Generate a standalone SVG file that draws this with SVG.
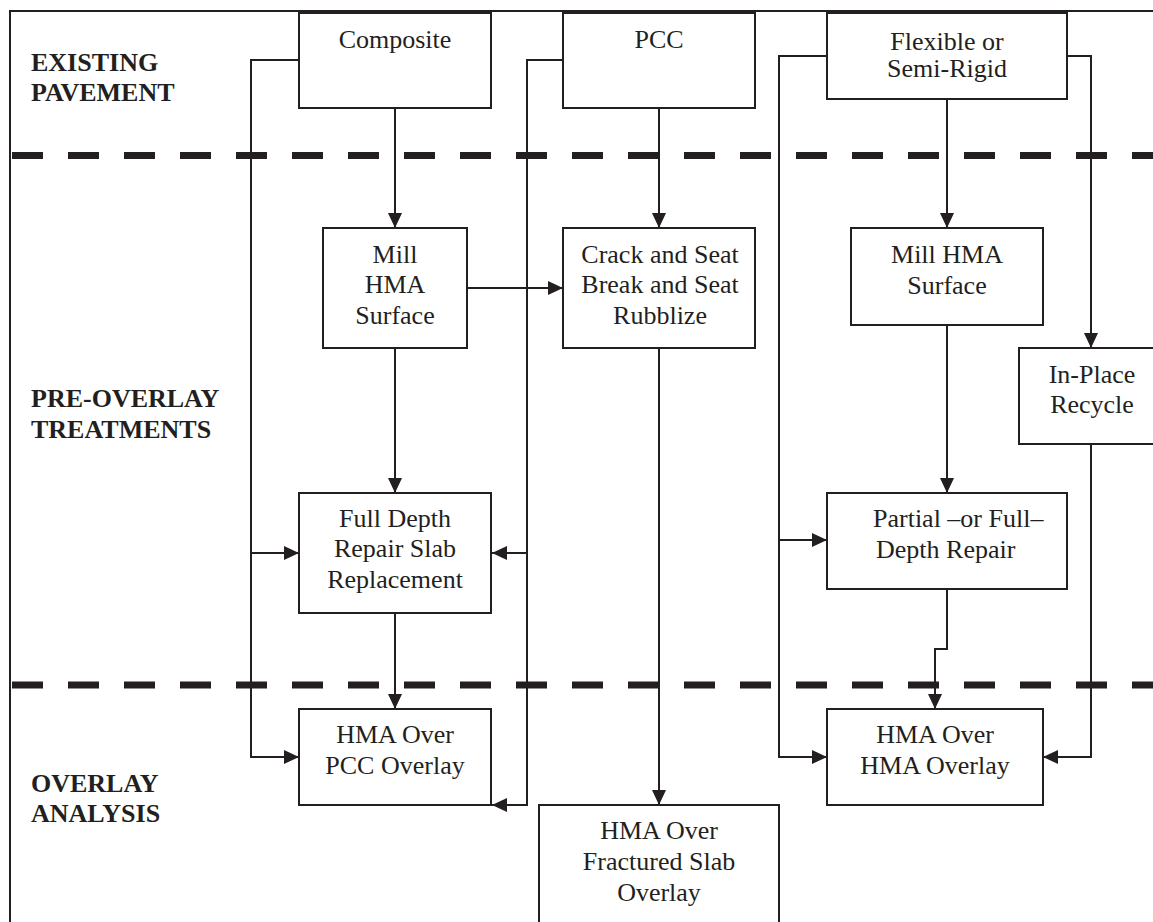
<svg xmlns="http://www.w3.org/2000/svg" width="1153" height="922" viewBox="0 0 1153 922">
<style>
.bx{fill:#fff;stroke:#231f20;stroke-width:2}
.t{font-family:"Liberation Serif","Times New Roman",serif;font-size:26px;fill:#231f20;text-anchor:middle}
.ts{font-family:"Liberation Serif","Times New Roman",serif;font-size:26px;fill:#231f20}
.lb{font-family:"Liberation Serif","Times New Roman",serif;font-size:26px;font-weight:bold;fill:#231f20}
.c{fill:none;stroke:#231f20;stroke-width:2}
.ca{fill:none;stroke:#231f20;stroke-width:2;marker-end:url(#ah)}
.dash{stroke:#231f20;stroke-width:7;stroke-dasharray:31 25}
</style>
<defs>
<marker id="ah" viewBox="0 0 15 14" refX="15" refY="7" markerWidth="15" markerHeight="14" markerUnits="userSpaceOnUse" orient="auto">
<path d="M0,0 L15,7 L0,14 z" fill="#231f20"/>
</marker>
</defs>
<rect width="1153" height="922" fill="#fff"/>
<g id="frame">
<path d="M10,930 V11 H1160" fill="none" stroke="#231f20" stroke-width="2"/>
<line class="dash" x1="12" y1="155.5" x2="1160" y2="155.5"/>
<line class="dash" x1="12" y1="685" x2="1160" y2="685"/>
</g>
<g id="section-labels">
<text class="lb" x="31" y="71">EXISTING</text>
<text class="lb" x="31" y="101">PAVEMENT</text>
<text class="lb" x="31" y="407">PRE-OVERLAY</text>
<text class="lb" x="31" y="438">TREATMENTS</text>
<text class="lb" x="31" y="792">OVERLAY</text>
<text class="lb" x="31" y="822">ANALYSIS</text>
</g>
<g id="connectors">
<path class="ca" d="M395,108 V228"/>
<path class="ca" d="M659,108 V228"/>
<path class="ca" d="M947,99 V228"/>
<path class="ca" d="M299,60 H251 V757 H299"/>
<path class="ca" d="M251,553 H299"/>
<path class="ca" d="M563,60 H527 V805 H492"/>
<path class="ca" d="M527,553 H492"/>
<path class="ca" d="M467,288 H563"/>
<path class="ca" d="M395,348 V493"/>
<path class="ca" d="M395,613 V709"/>
<path class="ca" d="M659,348 V805"/>
<path class="ca" d="M827,56 H779 V757 H827"/>
<path class="ca" d="M779,540 H827"/>
<path class="ca" d="M1067,56 H1091 V348"/>
<path class="ca" d="M947,325 V493"/>
<path class="ca" d="M947,589 V649 H935 V709"/>
<path class="ca" d="M1091,444 V757 H1043"/>
</g>
<g id="composite">
<rect class="bx" x="299" y="13" width="192" height="95"/>
<text class="t" x="395" y="48">Composite</text>
</g>
<g id="pcc">
<rect class="bx" x="563" y="13" width="192" height="95"/>
<text class="t" x="659" y="48">PCC</text>
</g>
<g id="flexible">
<rect class="bx" x="827" y="13" width="240" height="86"/>
<text class="t" x="947" y="50">Flexible or</text>
<text class="t" x="947" y="77">Semi-Rigid</text>
</g>
<g id="mill-hma-left">
<rect class="bx" x="323" y="228" width="144" height="120"/>
<text class="t" x="395" y="263">Mill</text>
<text class="t" x="395" y="293">HMA</text>
<text class="t" x="395" y="324">Surface</text>
</g>
<g id="crack-seat">
<rect class="bx" x="563" y="228" width="192" height="120"/>
<text class="t" x="660" y="263">Crack and Seat</text>
<text class="t" x="660" y="293">Break and Seat</text>
<text class="t" x="660" y="324">Rubblize</text>
</g>
<g id="mill-hma-right">
<rect class="bx" x="851" y="228" width="192" height="97"/>
<text class="t" x="947" y="263">Mill HMA</text>
<text class="t" x="947" y="294">Surface</text>
</g>
<g id="in-place-recycle">
<rect class="bx" x="1019" y="348" width="160" height="96"/>
<text class="t" x="1092" y="383">In-Place</text>
<text class="t" x="1092" y="413">Recycle</text>
</g>
<g id="full-depth">
<rect class="bx" x="299" y="493" width="192" height="120"/>
<text class="t" x="395" y="527">Full Depth</text>
<text class="t" x="395" y="557">Repair Slab</text>
<text class="t" x="395" y="588">Replacement</text>
</g>
<g id="partial-full-depth">
<rect class="bx" x="827" y="493" width="240" height="96"/>
<text class="ts" x="873" y="527">Partial –or Full–</text>
<text class="ts" x="876" y="558">Depth Repair</text>
</g>
<g id="hma-over-pcc">
<rect class="bx" x="299" y="709" width="192" height="96"/>
<text class="t" x="395" y="743">HMA Over</text>
<text class="t" x="395" y="774">PCC Overlay</text>
</g>
<g id="hma-over-fractured">
<rect class="bx" x="539" y="805" width="240" height="130"/>
<text class="t" x="659" y="839">HMA Over</text>
<text class="t" x="659" y="870">Fractured Slab</text>
<text class="t" x="659" y="901">Overlay</text>
</g>
<g id="hma-over-hma">
<rect class="bx" x="827" y="709" width="216" height="96"/>
<text class="t" x="935" y="743">HMA Over</text>
<text class="t" x="935" y="774">HMA Overlay</text>
</g>
</svg>
